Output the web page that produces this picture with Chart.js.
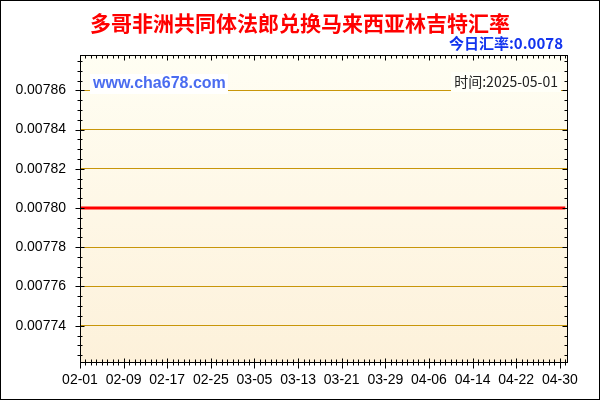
<!DOCTYPE html>
<html>
<head>
<meta charset="utf-8">
<script src="https://cdn.jsdelivr.net/npm/chart.js@4"></script>
<style>
    html, body { margin: 0; padding: 0; background: #ffffff; }
    #wrap { position: relative; width: 600px; height: 400px; }
</style>
</head>
<body>
<div id="wrap"><canvas id="rateChart"></canvas></div>
<script>
// 多哥非洲共同体法郎 -> 马来西亚林吉特, 2025-02-01 .. 2025-05-01 (daily)
const chartTitle = '多哥非洲共同体法郎兑换马来西亚林吉特汇率';
const todayText = '今日汇率:0.0078';
const dateText = '时间:2025-05-01';
const siteText = 'www.cha678.com';

// x tick labels and the day offset (from 02-01) where each sits
const xTickLabels = ['02-01', '02-09', '02-17', '02-25', '03-05', '03-13', '03-21', '03-29', '04-06', '04-14', '04-22', '04-30'];
const xTickDays = [0, 8, 16, 24, 32, 40, 48, 56, 64, 72, 80, 88];

// y tick values
const yTicks = [0.00774, 0.00776, 0.00778, 0.00780, 0.00782, 0.00784, 0.00786];

// daily rate, 02-01 .. 05-01
const rates = [
    0.0078, 0.0078, 0.0078, 0.0078, 0.0078, 0.0078, 0.0078, 0.0078, 0.0078, 0.0078,
    0.0078, 0.0078, 0.0078, 0.0078, 0.0078, 0.0078, 0.0078, 0.0078, 0.0078, 0.0078,
    0.0078, 0.0078, 0.0078, 0.0078, 0.0078, 0.0078, 0.0078, 0.0078, 0.0078, 0.0078,
    0.0078, 0.0078, 0.0078, 0.0078, 0.0078, 0.0078, 0.0078, 0.0078, 0.0078, 0.0078,
    0.0078, 0.0078, 0.0078, 0.0078, 0.0078, 0.0078, 0.0078, 0.0078, 0.0078, 0.0078,
    0.0078, 0.0078, 0.0078, 0.0078, 0.0078, 0.0078, 0.0078, 0.0078, 0.0078, 0.0078,
    0.0078, 0.0078, 0.0078, 0.0078, 0.0078, 0.0078, 0.0078, 0.0078, 0.0078, 0.0078,
    0.0078, 0.0078, 0.0078, 0.0078, 0.0078, 0.0078, 0.0078, 0.0078, 0.0078, 0.0078,
    0.0078, 0.0078, 0.0078, 0.0078, 0.0078, 0.0078, 0.0078, 0.0078, 0.0078, 0.0078
];

const xMin = 0;
const xMax = 89.5;
const yMin = 0.007721;
const yMax = 0.007878;
const yMinorStep = 0.000005;

// Plot background, frame, tick marks and the overlaid texts
const decorPlugin = {
    id: 'decor',
    beforeDraw(chart) {
        const { ctx, chartArea: a } = chart;
        const g = ctx.createLinearGradient(0, a.top, 0, a.bottom);
        g.addColorStop(0, '#fffef3');
        g.addColorStop(1, '#fdf1da');
        ctx.save();
        ctx.fillStyle = g;
        ctx.fillRect(a.left, a.top, a.right - a.left, a.bottom - a.top);
        ctx.restore();
    },
    afterDraw(chart) {
        const { ctx, chartArea: a, scales } = chart;
        const xs = scales.x, ys = scales.y;
        ctx.save();

        // outer border
        ctx.strokeStyle = '#000';
        ctx.lineWidth = 1;
        ctx.strokeRect(0.5, 0.5, chart.width - 1, chart.height - 1);

        // plot frame
        const L = Math.round(a.left) + 0.5, R = Math.round(a.right) - 0.5;
        const T = Math.round(a.top) + 0.5, B = Math.round(a.bottom) - 0.5;
        ctx.strokeRect(L, T, R - L, B - T);

        // x ticks (minor every day, major at labels)
        ctx.beginPath();
        for (let d = Math.ceil(xMin); d <= xMax; d++) {
            const px = Math.round(xs.getPixelForValue(d)) + 0.5;
            const major = xTickDays.includes(d);
            ctx.moveTo(px, B - (major ? 4 : 3));
            ctx.lineTo(px, B + (major ? 6 : 3));
            ctx.moveTo(px, T);
            ctx.lineTo(px, T + (major ? 5 : 3));
        }
        // y ticks (minor every 0.000005)
        const first = Math.ceil(yMin / yMinorStep);
        const last = Math.floor(yMax / yMinorStep);
        for (let k = first; k <= last; k++) {
            const v = k * yMinorStep;
            const py = Math.round(ys.getPixelForValue(v)) + 0.5;
            const major = k % 4 === 0;
            ctx.moveTo(L - (major ? 5 : 3), py);
            ctx.lineTo(L + (major ? 4 : 2), py);
            ctx.moveTo(R, py);
            ctx.lineTo(R - (major ? 5 : 3), py);
        }
        ctx.strokeStyle = '#000';
        ctx.stroke();

        // title
        ctx.textBaseline = 'middle';
        ctx.textAlign = 'center';
        ctx.fillStyle = '#ff0000';
        ctx.font = 'bold 21px "Noto Sans CJK SC", sans-serif';
        ctx.fillText(chartTitle, 300, 23);

        // today's rate
        ctx.textAlign = 'right';
        ctx.fillStyle = '#1133ee';
        ctx.font = 'bold 15px "Noto Sans CJK SC", "Liberation Sans", sans-serif';
        ctx.fillText(todayText, 563, 43);

        // site watermark with white box
        ctx.fillStyle = '#ffffff';
        ctx.fillRect(90, 74, 138, 20);
        ctx.textAlign = 'left';
        ctx.fillStyle = '#4a6cf0';
        ctx.font = 'bold 16px "Liberation Sans", Arial, sans-serif';
        ctx.fillText(siteText, 93, 84);

        // date box
        ctx.fillStyle = '#fffff8';
        ctx.fillRect(451, 72, 110, 20);
        ctx.textAlign = 'right';
        ctx.fillStyle = '#222222';
        ctx.font = '14px "Noto Sans CJK SC", "Liberation Sans", sans-serif';
        ctx.fillText(dateText, 558, 82);

        ctx.restore();
    }
};

new Chart(document.getElementById('rateChart'), {
    type: 'line',
    data: {
        datasets: [{
            data: rates.map((v, i) => ({ x: i, y: v })),
            borderColor: '#ff0000',
            borderWidth: 3,
            pointRadius: 0,
            tension: 0,
            fill: false
        }]
    },
    options: {
        responsive: true,
        maintainAspectRatio: false,
        animation: false,
        layout: {
            padding: { top: 55, right: 32, bottom: 0, left: 0 }
        },
        plugins: {
            legend: { display: false },
            tooltip: { enabled: false }
        },
        scales: {
            x: {
                type: 'linear',
                min: xMin,
                max: xMax,
                afterBuildTicks: function(scale) {
                    scale.ticks = xTickDays.map(d => ({ value: d }));
                },
                afterFit: function(scale) {
                    scale.height = 37;
                },
                grid: { display: false, drawTicks: false },
                border: { display: false },
                ticks: {
                    autoSkip: false,
                    maxRotation: 0,
                    padding: 9,
                    color: '#000',
                    font: { size: 14, family: "'Liberation Sans', Arial, sans-serif" },
                    callback: function(value, index) {
                        return xTickLabels[index];
                    }
                }
            },
            y: {
                min: yMin,
                max: yMax,
                afterBuildTicks: function(scale) {
                    scale.ticks = yTicks.map(v => ({ value: v }));
                },
                afterFit: function(scale) {
                    scale.width = 80;
                },
                grid: {
                    color: '#c8960a',
                    lineWidth: 1,
                    drawTicks: false
                },
                border: { display: false },
                ticks: {
                    padding: 14,
                    color: '#000',
                    font: { size: 14, family: "'Liberation Sans', Arial, sans-serif" },
                    callback: function(value) {
                        return Number(value).toFixed(5);
                    }
                }
            }
        }
    },
    plugins: [decorPlugin]
});
</script>
</body>
</html>
